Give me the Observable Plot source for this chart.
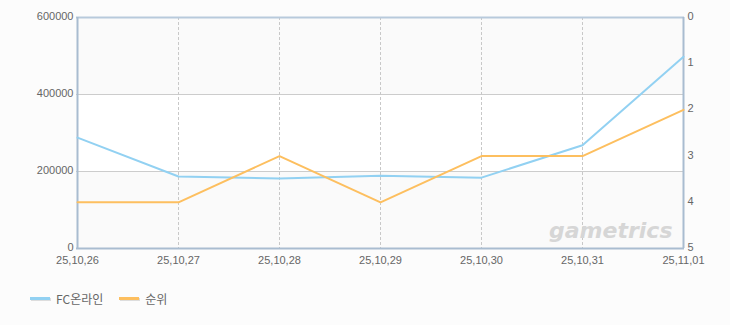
<!DOCTYPE html>
<html>
<head>
<meta charset="utf-8">
<script src="https://cdn.jsdelivr.net/npm/d3@7"></script>
<script src="https://cdn.jsdelivr.net/npm/@observablehq/plot@0.6"></script>
<style>
  html, body { margin: 0; padding: 0; background: #fcfcfc; }
  body { width: 730px; height: 325px; overflow: hidden; font-family: "Noto Sans CJK KR", "Noto Sans", sans-serif; }
  #chart svg { display: block; }
  .legend { position: absolute; left: 30px; top: 290px; display: flex; align-items: center; font-size: 12px; color: #666; }
  .legend .item { display: flex; align-items: center; margin-right: 16px; }
  .legend .sw { width: 20px; height: 3px; margin-right: 6px; box-shadow: 1px 1px 0 #ddd; }
</style>
</head>
<body>
<div id="chart"></div>
<div class="legend">
  <div class="item"><span class="sw" style="background:#92d1f2"></span><span>FC온라인</span></div>
  <div class="item"><span class="sw" style="background:#fdbf5f"></span><span>순위</span></div>
</div>
<script>
const dates = ["25,10,26","25,10,27","25,10,28","25,10,29","25,10,30","25,10,31","25,11,01"];
const users = [288000, 187000, 182000, 189000, 184000, 268000, 498000];
const ranks = [4, 4, 3, 4, 3, 3, 2];
const leftTicks = [0, 200000, 400000, 600000];
const rankTicks = [0, 1, 2, 3, 4, 5];

const yMax = 600000;
const rankMax = 5;
const rankToY = r => (rankMax - r) * yMax / rankMax;

const data = dates.map((d, i) => ({date: d, users: users[i], rank: ranks[i]}));
const bands = [{y1: 0, y2: 200000, fill: "#fafafa"}, {y1: 200000, y2: 400000, fill: "#ffffff"}, {y1: 400000, y2: 600000, fill: "#fafafa"}];

const chart = Plot.plot({
  width: 730,
  height: 275,
  marginLeft: 76,
  marginRight: 46,
  marginTop: 17,
  marginBottom: 27,
  style: {background: "#fcfcfc", fontFamily: "'Liberation Sans', Arial, sans-serif", fontSize: "11px", color: "#666"},
  x: {type: "point", domain: dates, padding: 0},
  y: {domain: [0, yMax]},
  marks: [
    Plot.rectY(bands, {x1: () => dates[0], x2: () => dates[dates.length-1], y1: "y1", y2: "y2", fill: "fill"}),
    Plot.ruleY([200000, 400000], {stroke: "#cccccc", strokeWidth: 1}),
    Plot.ruleX(dates.slice(1, -1), {stroke: "#c8c8c8", strokeDasharray: "3,2", strokeWidth: 1}),
    Plot.axisX({ticks: dates, tickSize: 0, tickPadding: 8, label: null, fill: "#666"}),
    Plot.axisY({ticks: leftTicks, tickSize: 0, tickPadding: 3, dy: -1, tickFormat: d => String(d), label: null, fill: "#666"}),
    Plot.axisY({anchor: "right", ticks: rankTicks.map(rankToY), tickSize: 0, tickPadding: 3, dy: -1, tickFormat: d => String(Math.round(rankMax - d * rankMax / yMax)), label: null, fill: "#666"}),
    Plot.ruleY([0], {stroke: "#a9bcd0", strokeWidth: 2}),
    Plot.ruleY([yMax], {stroke: "#b8cadc", strokeWidth: 2}),
    Plot.ruleX([dates[0]], {stroke: "#a9bcd0", strokeWidth: 2}),
    Plot.ruleX([dates[dates.length-1]], {stroke: "#a9bcd0", strokeWidth: 2}),
    Plot.text(["gametrics"], {frameAnchor: "bottom-right", dx: -12, dy: -11, text: d => d, fontSize: 22, fontWeight: "bold", fontStyle: "italic", fill: "#d6d6d6", fontFamily: "'DejaVu Sans', sans-serif", textAnchor: "end"}),
    Plot.line(data, {x: "date", y: "users", stroke: "#92d1f2", strokeWidth: 2}),
    Plot.line(data, {x: "date", y: d => rankToY(d.rank), stroke: "#fdbf5f", strokeWidth: 2})
  ]
});
document.getElementById("chart").appendChild(chart);
</script>
</body>
</html>
